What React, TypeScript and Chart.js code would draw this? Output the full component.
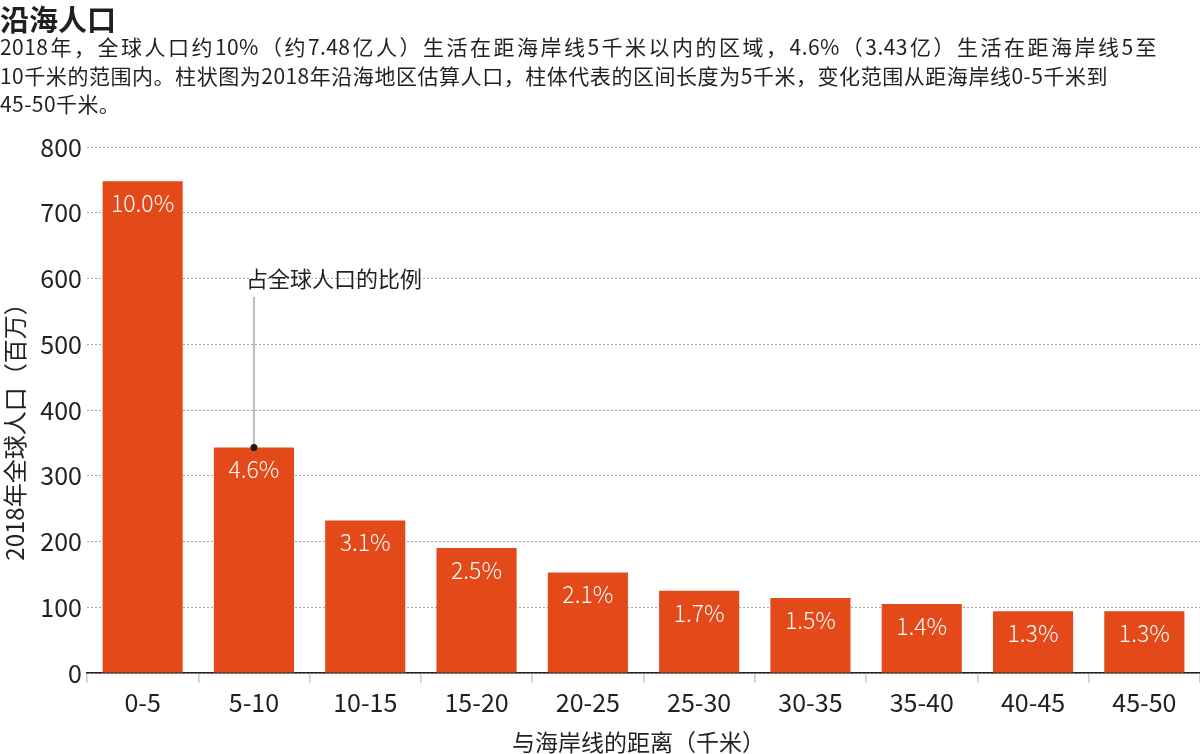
import React, { useEffect, useRef } from "react";
import { Chart, registerables } from "chart.js";

Chart.register(...registerables);

const categories = ["0-5", "5-10", "10-15", "15-20", "20-25", "25-30", "30-35", "35-40", "40-45", "45-50"];
const population = [748, 343, 232, 190, 153, 125, 114, 105, 94, 94];
const shareLabels = ["10.0%", "4.6%", "3.1%", "2.5%", "2.1%", "1.7%", "1.5%", "1.4%", "1.3%", "1.3%"];
const yTicks = [0, 100, 200, 300, 400, 500, 600, 700, 800];

const titleText = "沿海人口";
const subtitleLines = [
  "2018年，全球人口约10%（约7.48亿人）生活在距海岸线5千米以内的区域，4.6%（3.43亿）生活在距海岸线5至",
  "10千米的范围内。柱状图为2018年沿海地区估算人口，柱体代表的区间长度为5千米，变化范围从距海岸线0-5千米到",
  "45-50千米。",
];
const subtitleWidths = [1157, 1108, 0];
const xTitle = "与海岸线的距离（千米）";
const yTitle = "2018年全球人口（百万）";
const annotationText = "占全球人口的比例";
const annotationIndex = 1;
const annotationTextValue = 600;
const annotationLineTopValue = 572;

const FONT = '"Noto Sans CJK SC", "Noto Sans", sans-serif';
const BAR_COLOR = "#E44A19";
const TEXT_COLOR = "#231f1c";

const overlayPlugin = {
  id: "overlay",
  afterDatasetsDraw(chart: any) {
    const ctx = chart.ctx;
    const meta = chart.getDatasetMeta(0);
    const yScale = chart.scales.y;
    const area = chart.chartArea;
    ctx.save();
    // bar labels
    ctx.fillStyle = "#ffffff";
    ctx.font = `300 23px ${FONT}`;
    ctx.textAlign = "center";
    ctx.textBaseline = "middle";
    meta.data.forEach((bar: any, i: number) => {
      ctx.fillText(shareLabels[i], bar.x, bar.y + 22);
    });
    // annotation
    const ab = meta.data[annotationIndex];
    const topY = yScale.getPixelForValue(annotationLineTopValue);
    ctx.strokeStyle = "#bdbdbd";
    ctx.lineWidth = 2;
    ctx.beginPath();
    ctx.moveTo(ab.x, topY);
    ctx.lineTo(ab.x, ab.y);
    ctx.stroke();
    ctx.fillStyle = "#1a1a1a";
    ctx.beginPath();
    ctx.arc(ab.x, ab.y, 3.5, 0, Math.PI * 2);
    ctx.fill();
    ctx.fillStyle = TEXT_COLOR;
    ctx.font = `22px ${FONT}`;
    ctx.textAlign = "left";
    ctx.textBaseline = "middle";
    ctx.fillText(annotationText, ab.x - 8, yScale.getPixelForValue(annotationTextValue));
    // axis titles
    ctx.font = `23px ${FONT}`;
    ctx.textAlign = "center";
    ctx.textBaseline = "middle";
    ctx.fillText(xTitle, (area.left + area.right) / 2 - 5, 742);
    ctx.save();
    ctx.font = `24px ${FONT}`;
    ctx.translate(15, 426);
    ctx.rotate(-Math.PI / 2);
    ctx.fillText(yTitle, 0, 0);
    ctx.restore();
    ctx.restore();
  },
};

export default function App() {
  const canvasRef = useRef<HTMLCanvasElement | null>(null);

  useEffect(() => {
    if (!canvasRef.current) return;
    const chart = new Chart(canvasRef.current, {
      type: "bar",
      data: {
        labels: categories,
        datasets: [
          {
            data: population,
            backgroundColor: BAR_COLOR,
            borderWidth: 0,
            barPercentage: 0.72,
            categoryPercentage: 1,
          },
        ],
      },
      options: {
        animation: false,
        responsive: false,
        maintainAspectRatio: false,
        layout: { padding: { top: 147, left: 0, right: 0, bottom: 0 } },
        plugins: {
          legend: { display: false },
          tooltip: { enabled: false },
          title: { display: false },
        },
        scales: {
          x: {
            afterFit(scale: any) {
              scale.height = 81;
            },
            grid: {
              drawOnChartArea: false,
              drawTicks: true,
              tickLength: 10,
              color: "#cccccc",
              lineWidth: 1.5,
            },
            border: { display: true, color: "#222222", width: 1.5 },
            ticks: {
              color: TEXT_COLOR,
              font: { family: FONT, size: 25 },
              padding: 4,
              maxRotation: 0,
            },
          },
          y: {
            min: 0,
            max: 800,
            afterFit(scale: any) {
              scale.width = 87;
            },
            afterBuildTicks(scale: any) {
              scale.ticks = yTicks.map((v) => ({ value: v }));
            },
            grid: {
              drawTicks: false,
              color: "#a8a8a8",
              lineWidth: 1,
            },
            border: { display: false, dash: [2, 2] },
            ticks: {
              color: TEXT_COLOR,
              font: { family: FONT, size: 25 },
              padding: 5,
            },
          },
        },
      },
      plugins: [overlayPlugin],
    });
    return () => chart.destroy();
  }, []);

  return (
    <div
      style={{
        position: "absolute",
        top: 0,
        left: 0,
        width: 1200,
        height: 754,
        background: "#ffffff",
        fontFamily: FONT,
        color: TEXT_COLOR,
      }}
    >
      <canvas ref={canvasRef} width={1200} height={754} style={{ position: "absolute", top: 0, left: 0 }} />
      <div
        style={{
          position: "absolute",
          top: 0,
          left: 0,
          fontSize: 29,
          fontWeight: 700,
          lineHeight: "36px",
          whiteSpace: "nowrap",
        }}
      >
        {titleText}
      </div>
      <div
        style={
          {
            position: "absolute",
            top: 32,
            left: 0,
            fontSize: 21,
            lineHeight: "28.5px",
            whiteSpace: "nowrap",
            letterSpacing: "0.02em",
          } as any
        }
      >
        {subtitleLines.map((l, i) => (
          <div
            key={i}
            style={
              subtitleWidths[i]
                ? ({ width: subtitleWidths[i], textAlign: "justify", textAlignLast: "justify", textJustify: "inter-character" } as any)
                : undefined
            }
          >
            {l}
          </div>
        ))}
      </div>
    </div>
  );
}
